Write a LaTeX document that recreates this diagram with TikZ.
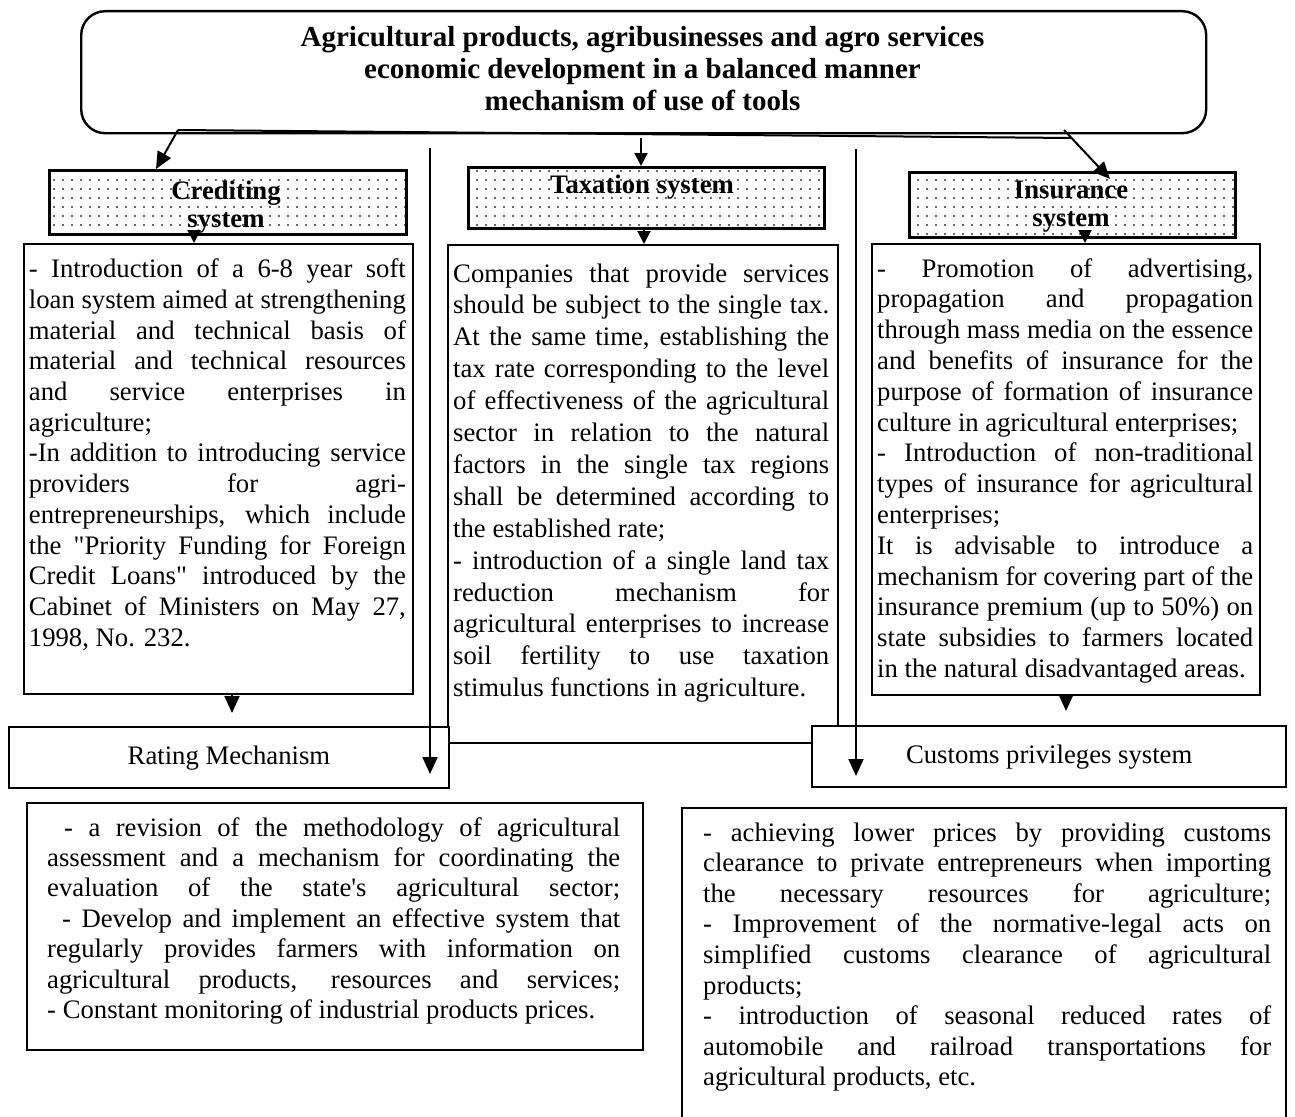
\documentclass[tikz,border=0pt]{standalone}
\usepackage{fontspec}
\setmainfont{Liberation Serif}[Ligatures=TeXOff]
\usetikzlibrary{arrows.meta,patterns.meta}
\newcommand\JL[1]{\noindent\makebox[\linewidth][s]{#1}\par}
\newcommand\PL[1]{\noindent #1\par}
\newcommand\bodyfont[1]{\fontsize{26.7pt}{#1}\selectfont}
\tikzset{
  plainbox/.style={draw, line width=2.4pt, inner sep=0pt, anchor=north west, fill=white},
  dotbox/.style={draw, line width=2.6pt, inner sep=0pt, anchor=north west,
    pattern={Dots[distance=9pt, radius=1.1pt]}, pattern color=black!80},
  txt/.style={anchor=base west, inner sep=0pt},
  lab/.style={anchor=base, inner sep=0pt, font=\fontsize{26.7pt}{28.5pt}\selectfont\bfseries},
  arr/.style={line width=2pt, -{Triangle[length=17pt, width=15pt]}},
  sarr/.style={line width=2pt, -{Triangle[length=13pt, width=13pt]}},
  ln/.style={line width=2pt},
}
\begin{document}
\begin{tikzpicture}[x=1pt, y=-1pt]
\useasboundingbox (0,0) rectangle (1295,1116);

% title
\node[draw, line width=2.4pt, rounded corners=24pt, inner sep=0pt, minimum width=1125pt, minimum height=122pt, anchor=north west] (title) at (80,10) {};
\node[anchor=base, inner sep=0pt] (titletxt) at (642.5,47) {\begin{minipage}[t]{1100pt}\centering\fontsize{29pt}{32pt}\selectfont\bfseries
Agricultural products, agribusinesses and agro services\\
economic development in a balanced manner\\
mechanism of use of tools\end{minipage}};

% dotted headers
\node[dotbox, minimum width=357pt, minimum height=64pt] (cred) at (48,169) {};
\node[dotbox, minimum width=356pt, minimum height=61pt] (tax) at (467,166) {};
\node[dotbox, minimum width=326pt, minimum height=65pt] (ins) at (908,171) {};
\node[lab] (credlab) at (226,199) {\begin{minipage}[t]{300pt}\centering Crediting\\system\end{minipage}};
\node[lab] (taxlab) at (642,193) {Taxation system};
\node[lab] (inslab) at (1071,198) {\begin{minipage}[t]{300pt}\centering Insurance\\system\end{minipage}};

% content boxes
\node[plainbox, minimum width=389pt, minimum height=450pt] (credC) at (23,243) {};
\node[plainbox, minimum width=390pt, minimum height=498pt] (taxC) at (447,244) {};
\node[plainbox, minimum width=388pt, minimum height=451pt] (insC) at (871,243) {};

\node[txt] (credtxt) at (28.7,277.7) {\begin{minipage}[t]{377pt}\bodyfont{30.7pt}
\JL{- Introduction of a 6-8 year soft}
\JL{loan system aimed at strengthening}
\JL{material and technical basis of}
\JL{material and technical resources}
\JL{and service enterprises in}
\PL{agriculture;}
\JL{-In addition to introducing service}
\JL{providers for agri-}
\JL{entrepreneurships, which include}
\JL{the "Priority Funding for Foreign}
\JL{Credit Loans" introduced by the}
\JL{Cabinet of Ministers on May 27,}
\PL{1998, No. 232.}
\end{minipage}};

\node[txt] (taxtxt) at (453,282) {\begin{minipage}[t]{376pt}\bodyfont{31.9pt}
\JL{Companies that provide services}
\JL{should be subject to the single tax.}
\JL{At the same time, establishing the}
\JL{tax rate corresponding to the level}
\JL{of effectiveness of the agricultural}
\JL{sector in relation to the natural}
\JL{factors in the single tax regions}
\JL{shall be determined according to}
\PL{the established rate;}
\JL{- introduction of a single land tax}
\JL{reduction mechanism for}
\JL{agricultural enterprises to increase}
\JL{soil fertility to use taxation}
\PL{stimulus functions in agriculture.}
\end{minipage}};

\node[txt] (instxt) at (877,277) {\begin{minipage}[t]{376pt}\bodyfont{30.8pt}
\JL{- Promotion of advertising,}
\JL{propagation and propagation}
\JL{through mass media on the essence}
\JL{and benefits of insurance for the}
\JL{purpose of formation of insurance}
\PL{culture in agricultural enterprises;}
\JL{- Introduction of non-traditional}
\JL{types of insurance for agricultural}
\PL{enterprises;}
\JL{It is advisable to introduce a}
\JL{mechanism for covering part of the}
\JL{insurance premium (up to 50\%) on}
\JL{state subsidies to farmers located}
\PL{in the natural disadvantaged areas.}
\end{minipage}};

% second-level boxes
\node[plainbox, minimum width=440.5pt, minimum height=61pt, font=\bodyfont{30pt}] (rating) at (7.5,726) {Rating Mechanism};
\node[plainbox, minimum width=474pt, minimum height=61pt, font=\bodyfont{30pt}] (customs) at (811,725) {Customs privileges system};

% bottom boxes
\node[plainbox, minimum width=616pt, minimum height=247pt] (blbox) at (26,802) {};
\node[plainbox, minimum width=604pt, minimum height=330pt] (brbox) at (681,807) {};

\node[txt] (bltxt) at (47,836) {\begin{minipage}[t]{573pt}\bodyfont{30.4pt}
\JL{\hspace*{17pt}- a revision of the methodology of agricultural}
\JL{assessment and a mechanism for coordinating the}
\JL{evaluation of the state's agricultural sector;}
\JL{\hspace*{15pt}- Develop and implement an effective system that}
\JL{regularly provides farmers with information on}
\JL{agricultural products, resources and services;}
\PL{- Constant monitoring of industrial products prices.}
\end{minipage}};

\node[txt] (brtxt) at (703,841) {\begin{minipage}[t]{568pt}\bodyfont{30.6pt}
\JL{- achieving lower prices by providing customs}
\JL{clearance to private entrepreneurs when importing}
\JL{the necessary resources for agriculture;}
\JL{- Improvement of the normative-legal acts on}
\JL{simplified customs clearance of agricultural}
\PL{products;}
\JL{- introduction of seasonal reduced rates of}
\JL{automobile and railroad transportations for}
\PL{agricultural products, etc.}
\end{minipage}};

% coordinates
\coordinate (tl) at (178,130);
\coordinate (tr) at (1064,130);
\coordinate (tj) at (1071,138);
\coordinate (tm) at (641,138);
\coordinate (xa) at (156,0);
\coordinate (ri) at (1110,179);
\coordinate (x1) at (194,0);
\coordinate (x2) at (644,0);
\coordinate (x3) at (1085,0);
\coordinate (vl) at (430,148);
\coordinate (vle) at (430,774);
\coordinate (vr) at (856,149);
\coordinate (vre) at (856,776);
\coordinate (b1) at (232,713);
\coordinate (b2) at (1066,711);

% connectors from title
\draw[ln] (tl) -- (tj);
\draw[arr] (tl) -- (cred.north -| xa);
\draw[sarr] (tm) -- (tax.north -| tm);
\draw[arr] (tr) -- (ri);

% header to content
\draw[sarr] (cred.south -| x1) -- (credC.north -| x1);
\draw[sarr] (tax.south -| x2) -- (taxC.north -| x2);
\draw[sarr] (ins.south -| x3) -- (insC.north -| x3);

% content to second level
\draw[arr] (credC.south -| b1) -- (b1);
\draw[arr] (insC.south -| b2) -- (b2);

% long vertical arrows
\draw[arr] (vl) -- (vle);
\draw[arr] (vr) -- (vre);
\end{tikzpicture}
\end{document}
